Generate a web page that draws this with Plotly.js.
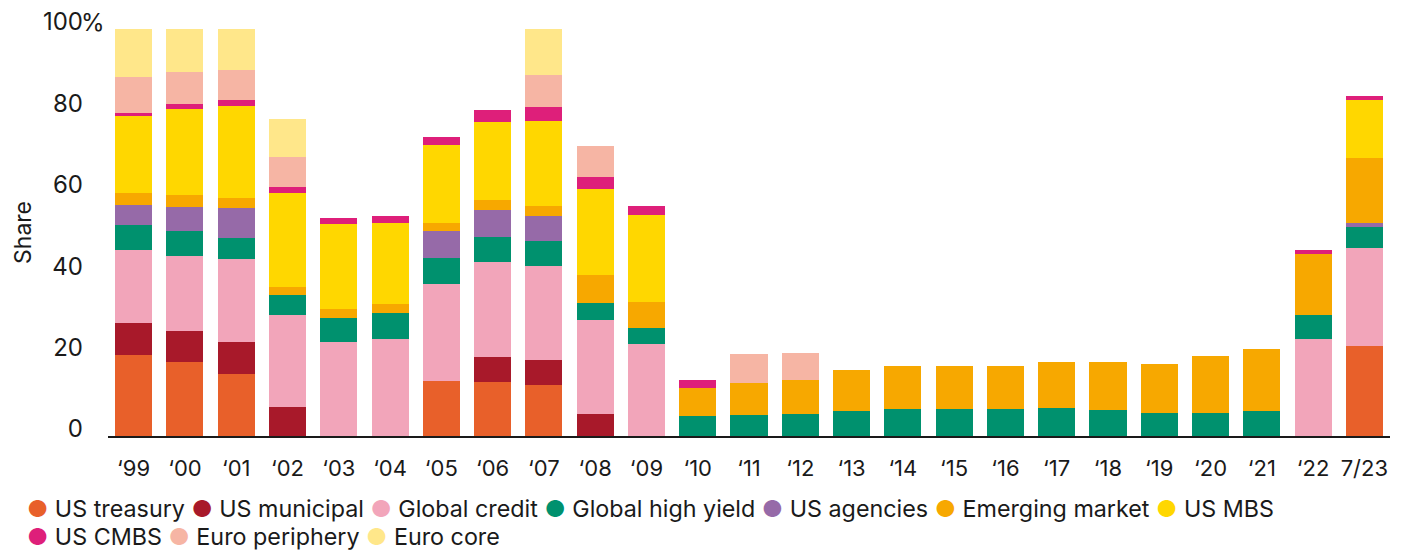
<!DOCTYPE html>
<html>
<head>
<meta charset="utf-8">
<script src="https://cdn.plot.ly/plotly-3.0.1.min.js"></script>
<style>html,body{margin:0;padding:0;background:#fff;}#chart{width:1405px;height:552px;}</style>
</head>
<body>
<div id="chart"></div>
<script>
const categories = ["\u201899","\u201800","\u201801","\u201802","\u201803","\u201804","\u201805","\u201806","\u201807","\u201808","\u201809","\u201810","\u201811","\u201812","\u201813","\u201814","\u201815","\u201816","\u201817","\u201818","\u201819","\u201820","\u201821","\u201822","7/23"];

const usTreasury     = [19.8,18.1,15.2,0,0,0,13.6,13.2,12.5,0,0,0,0,0,0,0,0,0,0,0,0,0,0,0,22.1];
const usMunicipal    = [7.9,7.6,7.8,7.1,0,0,0,6.2,6.1,5.3,0,0,0,0,0,0,0,0,0,0,0,0,0,0,0];
const globalCredit   = [18.0,18.5,20.4,22.6,23.0,23.8,23.7,23.3,23.1,23.2,22.5,0,0,0,0,0,0,0,0,0,0,0,0,23.8,24.1];
const globalHighYield= [6.1,6.1,5.2,5.0,5.9,6.4,6.4,6.2,6.2,4.1,4.0,4.8,5.1,5.3,6.1,6.6,6.6,6.6,6.8,6.3,5.6,5.6,6.1,5.9,5.1];
const usAgencies     = [4.9,5.9,7.4,0,0,0,6.6,6.6,6.1,0,0,0,0,0,0,0,0,0,0,0,0,0,0,0,1.0];
const emergingMarket = [2.9,2.9,2.4,1.9,2.2,2.2,2.0,2.5,2.5,6.9,6.4,6.9,7.9,8.4,10.1,10.6,10.6,10.6,11.4,11.9,12.1,14.0,15.2,15.0,16.0];
const usMBS          = [19.1,21.2,22.7,23.1,21.0,19.9,19.2,19.1,20.9,21.2,21.4,0,0,0,0,0,0,0,0,0,0,0,0,0,14.2];
const usCMBS         = [0.7,1.2,1.5,1.6,1.5,1.7,1.9,3.0,3.4,2.9,2.2,2.0,0,0,0,0,0,0,0,0,0,0,0,1.0,1.0];
const euroPeriphery  = [8.9,7.9,7.3,7.3,0,0,0,0,7.9,7.6,0,0,7.1,6.6,0,0,0,0,0,0,0,0,0,0,0];
const euroCore       = [11.8,10.6,10.1,9.4,0,0,0,0,11.3,0,0,0,0,0,0,0,0,0,0,0,0,0,0,0,0];

const seriesNames  = ["US treasury","US municipal","Global credit","Global high yield","US agencies","Emerging market","US MBS","US CMBS","Euro periphery","Euro core"];
const seriesValues = [usTreasury,usMunicipal,globalCredit,globalHighYield,usAgencies,emergingMarket,usMBS,usCMBS,euroPeriphery,euroCore];
const seriesColors = ["#E8602A","#A8192A","#F2A5BA","#00916E","#966AA8","#F7A800","#FFD700","#DE1F7A","#F6B5A4","#FFE78A"];

const yTickVals = [0,20,40,60,80,100];
const yTickText = ["0","20","40","60","80","100"];

const traces = seriesNames.map((n,i)=>({
  type:'bar', name:n, x:categories, y:seriesValues[i],
  marker:{color:seriesColors[i], line:{width:0}},
  showlegend:false, hoverinfo:'x+y+name'
}));

const FONT = 'Inter, "Open Sans", sans-serif';
function legendRow(idx){
  return idx.map(i=>'<span style="color:'+seriesColors[i]+'">\u25CF</span> '+seriesNames[i]).join(' ');
}

const layout = {
  width:1405, height:552,
  margin:{l:108,r:15,t:29,b:116},
  paper_bgcolor:'#fff', plot_bgcolor:'#fff',
  barmode:'stack', bargap:0.277,
  font:{family:FONT, color:'#1a1a1a', size:21},
  showlegend:false,
  xaxis:{type:'category', showgrid:false, zeroline:false, showline:true, linecolor:'#1a1a1a', linewidth:2,
         ticks:'', tickfont:{size:22, family:FONT, color:'#1a1a1a'}, ticklabelstandoff:12, fixedrange:true},
  yaxis:{range:[0,100], showgrid:false, zeroline:false, showline:false, ticks:'',
         tickvals:yTickVals, ticktext:yTickText, tickfont:{size:24, family:FONT, color:'#1a1a1a'},
         ticklabelshift:-7, ticklabelstandoff:24,
         title:{text:'Share', font:{size:23, family:FONT, color:'#1a1a1a'}, standoff:4}, fixedrange:true},
  annotations:[
    {xref:'paper', yref:'paper', x:-0.065, y:-0.179, xanchor:'left', yanchor:'middle', showarrow:false,
     text:legendRow([0,1,2,3,4,5,6]), font:{size:23.3, family:FONT, color:'#1a1a1a'}},
    {xref:'paper', yref:'paper', x:-0.065, y:-0.247, xanchor:'left', yanchor:'middle', showarrow:false,
     text:legendRow([7,8,9]), font:{size:23.3, family:FONT, color:'#1a1a1a'}},
    {xref:'paper', yref:'y', x:-0.0225, y:100, xanchor:'left', yanchor:'middle', yshift:7, showarrow:false,
     text:'%', font:{size:24, family:FONT, color:'#1a1a1a'}}
  ]
};

Plotly.newPlot('chart', traces, layout, {displayModeBar:false, staticPlot:true});
</script>
</body>
</html>
